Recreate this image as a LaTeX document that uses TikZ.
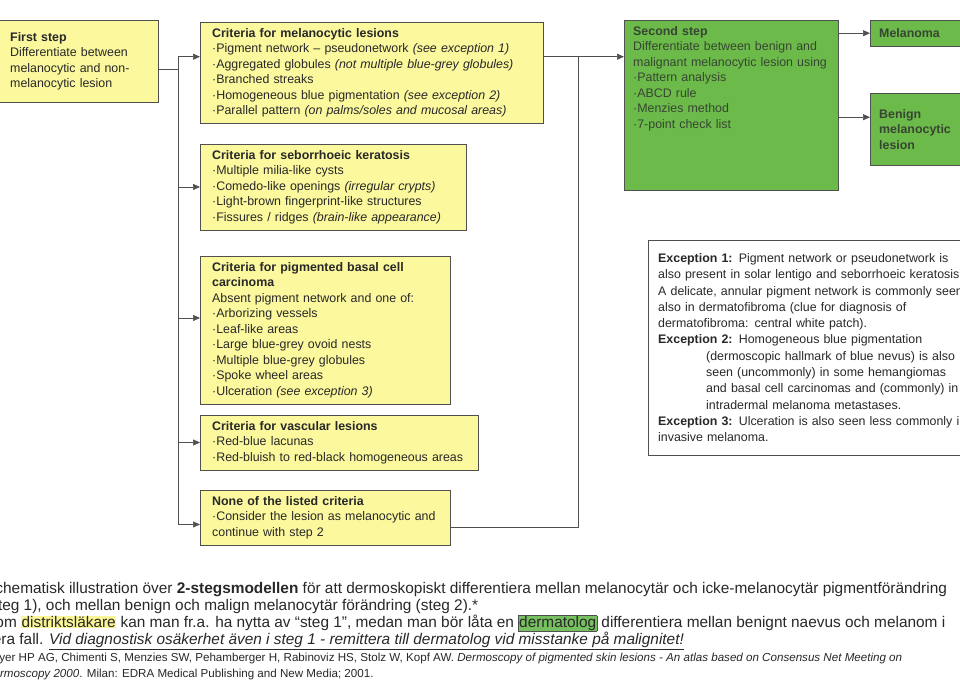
\documentclass[tikz,border=0pt]{standalone}
\usepackage{fontspec}
\setmainfont{Liberation Sans}
\usetikzlibrary{arrows.meta,positioning}
\definecolor{boxyellow}{RGB}{251,248,158}
\definecolor{boxgreen}{RGB}{108,186,74}
\definecolor{linegrey}{RGB}{80,80,80}
\definecolor{textgrey}{RGB}{40,40,40}
\definecolor{greentext}{RGB}{55,70,50}
\definecolor{hlyellow}{RGB}{250,246,150}
\definecolor{hlgreen}{RGB}{118,192,96}
\newcommand{\hlyel}[1]{{\setlength{\fboxsep}{0.5pt}\colorbox{hlyellow}{#1}}}
\newcommand{\hlgrn}[1]{{\setlength{\fboxsep}{0.5pt}\fcolorbox{linegrey}{hlgreen}{#1}}}

\begin{document}
\begin{tikzpicture}[x=1pt, y=-1pt,
    critbox/.style={rectangle, draw=linegrey, fill=boxyellow, anchor=north west,
        align=left, text=textgrey, font=\fontsize{12.4}{15.5}\selectfont,
        inner xsep=12pt, inner ysep=6pt},
    stepbox/.style={critbox, fill=boxgreen, text=greentext},
    notebox/.style={rectangle, draw=linegrey, fill=white, anchor=north west,
        align=left, text=textgrey, font=\fontsize{12.4}{16.3}\selectfont,
        inner xsep=10pt, inner ysep=7pt},
    arr/.style={-{Triangle[length=7pt, width=6pt]}, linegrey, semithick},
    conn/.style={linegrey, semithick}
]
    \useasboundingbox (0,0) rectangle (960,685);
    \fill[white] (0,0) rectangle (960,685);
    \clip (0,0) rectangle (960,685);

    % first step
    \node[critbox, text width=136pt, minimum height=82pt] (first) at (-2,20)
        {\textbf{First step}\\Differentiate between\\melanocytic and non-\\melanocytic lesion};

    % criteria boxes
    \node[critbox, text width=319pt] (melano) at (200,22)
        {\textbf{Criteria for melanocytic lesions}\\
         ·Pigment network – pseudonetwork \textit{(see exception 1)}\\
         ·Aggregated globules \textit{(not multiple blue-grey globules)}\\
         ·Branched streaks\\
         ·Homogeneous blue pigmentation \textit{(see exception 2)}\\
         ·Parallel pattern \textit{(on palms/soles and mucosal areas)}};
    \node[critbox, text width=242pt] (sebo) at (200,144)
        {\textbf{Criteria for seborrhoeic keratosis}\\
         ·Multiple milia-like cysts\\
         ·Comedo-like openings \textit{(irregular crypts)}\\
         ·Light-brown fingerprint-like structures\\
         ·Fissures / ridges \textit{(brain-like appearance)}};
    \node[critbox, text width=226pt] (basal) at (200,256)
        {\textbf{Criteria for pigmented basal cell}\\
         \textbf{carcinoma}\\
         Absent pigment network and one of:\\
         ·Arborizing vessels\\
         ·Leaf-like areas\\
         ·Large blue-grey ovoid nests\\
         ·Multiple blue-grey globules\\
         ·Spoke wheel areas\\
         ·Ulceration \textit{(see exception 3)}};
    \node[critbox, text width=254pt] (vasc) at (200,415)
        {\textbf{Criteria for vascular lesions}\\
         ·Red-blue lacunas\\
         ·Red-bluish to red-black homogeneous areas};
    \node[critbox, text width=226pt] (none) at (200,490)
        {\textbf{None of the listed criteria}\\
         ·Consider the lesion as melanocytic and\\
         continue with step 2};

    % second step and results
    \node[stepbox, text width=196pt, inner xsep=9pt] (second) at (624,20)
        {\textbf{Second step}\\
         Differentiate between benign and\\
         malignant melanocytic lesion using\\
         ·Pattern analysis\\
         ·ABCD rule\\
         ·Menzies method\\
         ·7-point check list\\
         \rule{0pt}{52pt}};
    \node[stepbox, text width=92pt, inner xsep=9pt, minimum height=26pt] (melanoma) at (870,20)
        {\textbf{Melanoma}};
    \node[stepbox, text width=92pt, minimum height=72pt, inner xsep=9pt] (benign) at (870,93)
        {\textbf{Benign}\\\textbf{melanocytic}\\\textbf{lesion}};

    % exceptions
    \node[notebox, text width=320pt, minimum height=215pt] (except) at (648,240)
        {\textbf{Exception 1:} Pigment network or pseudonetwork is\\
         also present in solar lentigo and seborrhoeic keratosis.\\
         A delicate, annular pigment network is commonly seen\\
         also in dermatofibroma (clue for diagnosis of\\
         dermatofibroma: central white patch).\\
         \textbf{Exception 2:} Homogeneous blue pigmentation\\
         \hspace*{48pt}(dermoscopic hallmark of blue nevus) is also\\
         \hspace*{48pt}seen (uncommonly) in some hemangiomas\\
         \hspace*{48pt}and basal cell carcinomas and (commonly) in\\
         \hspace*{48pt}intradermal melanoma metastases.\\
         \textbf{Exception 3:} Ulceration is also seen less commonly in\\
         invasive melanoma.};

    % connectors
    \coordinate (trunk) at (178,0);
    \coordinate (merge) at (578,0);
    \coordinate (firstout) at ([yshift=-8pt]first.east);
    \coordinate (melanoin) at ([yshift=16pt]melano.west);
    \coordinate (melanoout) at ([yshift=16pt]melano.east);
    \coordinate (basalin) at ([yshift=12pt]basal.west);
    \coordinate (nonein) at ([yshift=-7pt]none.west);
    \coordinate (noneout) at ([yshift=-10pt]none.east);
    \coordinate (benignin) at ([yshift=12pt]benign.west);

    \draw[conn] (firstout) -- (firstout -| trunk);
    \draw[conn] (trunk |- melanoin) -- (trunk |- nonein);
    \draw[arr] (trunk |- melanoin) -- (melanoin);
    \draw[arr] (trunk |- sebo.west) -- (sebo.west);
    \draw[arr] (trunk |- basalin) -- (basalin);
    \draw[arr] (trunk |- vasc.west) -- (vasc.west);
    \draw[arr] (trunk |- nonein) -- (nonein);

    \draw[arr] (melanoout) -- (melanoout -| second.west);
    \draw[conn] (noneout) -| (merge |- melanoout);

    \draw[arr] (melanoma.west -| second.east) -- (melanoma.west);
    \draw[arr] (benignin -| second.east) -- (benignin);

    % text below the chart
    \node[anchor=north west, align=left, inner sep=0pt, text=textgrey,
          font=\fontsize{15.4}{17}\selectfont] (caption) at (-15,582)
        {Schematisk illustration över \textbf{2-stegsmodellen} för att dermoskopiskt differentiera mellan melanocytär och icke-melanocytär pigmentförändring\\
         (steg 1), och mellan benign och malign melanocytär förändring (steg 2).*\\
         Som \hlyel{distriktsläkare} kan man fr.a. ha nytta av “steg 1”, medan man bör låta en \hlgrn{dermatolog} differentiera mellan benignt naevus och melanom i\\
         flera fall. \underline{\textit{Vid diagnostisk osäkerhet även i steg 1 - remittera till dermatolog vid misstanke på malignitet!}}};
    \node[align=left, inner sep=0pt, text=textgrey,
          font=\fontsize{11.6}{16}\selectfont, below=3pt of caption.south west, anchor=north west] (refs)
        {Soyer HP AG, Chimenti S, Menzies SW, Pehamberger H, Rabinoviz HS, Stolz W, Kopf AW. \textit{Dermoscopy of pigmented skin lesions - An atlas based on Consensus Net Meeting on}\\
         \textit{Dermoscopy 2000}. Milan: EDRA Medical Publishing and New Media; 2001.};
\end{tikzpicture}
\end{document}
